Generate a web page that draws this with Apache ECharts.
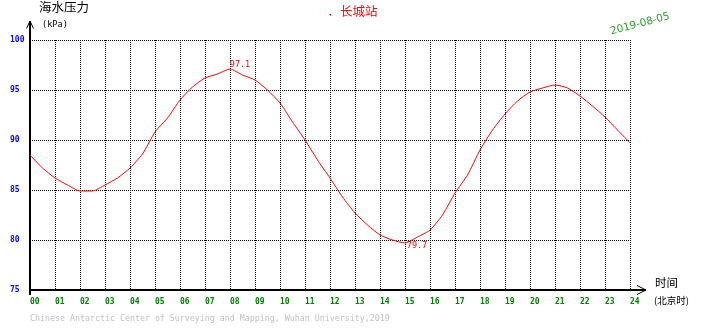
<!DOCTYPE html>
<html>
<head>
<meta charset="utf-8">
<script src="https://cdn.jsdelivr.net/npm/echarts@6/dist/echarts.min.js"></script>
<style>
  html, body { margin: 0; padding: 0; background: #fff; }
  #chart { width: 710px; height: 328px; }
</style>
</head>
<body>
<div id="chart"></div>
<script>
// 长城站 海水压力 2019-08-05, 北京时
var hours = [0, 0.5, 1, 1.5, 2, 2.5, 3, 3.5, 4, 4.5, 5, 5.5, 6, 6.5, 7, 7.5, 8, 8.5,
  9, 9.5, 10, 10.5, 11, 11.5, 12, 12.5, 13, 13.5, 14, 14.5, 15, 15.5, 16, 16.5,
  17, 17.5, 18, 18.5, 19, 19.5, 20, 20.5, 21, 21.5, 22, 22.5, 23, 23.5, 24];
var pressure = [88.5, 87.2, 86.2, 85.5, 84.9, 84.9, 85.5, 86.2, 87.2, 88.6, 90.8, 92.2,
  94.0, 95.3, 96.2, 96.6, 97.1, 96.5, 96.0, 95.0, 93.7, 91.8, 90.0, 88.0, 86.2, 84.3,
  82.7, 81.5, 80.5, 80.0, 79.7, 80.3, 81.0, 82.5, 84.7, 86.5, 89.0, 91.0, 92.6, 93.9,
  94.8, 95.2, 95.5, 95.2, 94.4, 93.4, 92.3, 91.0, 89.7];
var hourLabels = ['00','01','02','03','04','05','06','07','08','09','10','11','12',
  '13','14','15','16','17','18','19','20','21','22','23','24'];

var mono = 'DejaVu Sans Mono';
var cjk = 'Noto Sans CJK SC';

var seriesData = [];
for (var i = 0; i < hours.length; i++) {
  seriesData.push([hours[i], pressure[i]]);
}

var chart = echarts.init(document.getElementById('chart'));
var option = {
  animation: false,
  backgroundColor: '#fff',
  grid: { left: 30, top: 40, right: 80, bottom: 38 },
  xAxis: {
    type: 'value',
    min: 0,
    max: 24,
    interval: 1,
    axisLine: { show: false },
    axisTick: { show: false },
    axisLabel: {
      margin: 8,
      align: 'left',
      color: '#008000',
      fontFamily: mono,
      fontWeight: 'bold',
      fontSize: 8,
      formatter: function (v) { return hourLabels[v]; }
    },
    splitLine: {
      show: true,
      lineStyle: { color: '#000', width: 1, type: [1, 1] }
    }
  },
  yAxis: {
    type: 'value',
    min: 75,
    max: 100,
    interval: 5,
    axisLine: { show: false },
    axisTick: { show: false },
    axisLabel: {
      margin: 20,
      align: 'left',
      color: '#0000ff',
      fontFamily: mono,
      fontWeight: 'bold',
      fontSize: 8,
      padding: [0, 0, 4, 0]
    },
    splitLine: {
      show: true,
      lineStyle: { color: '#000', width: 1, type: [1, 1] }
    }
  },
  series: [{
    name: '海水压力',
    type: 'line',
    data: seriesData,
    showSymbol: false,
    smooth: 0.2,
    lineStyle: { color: '#ff0000', width: 1 },
    itemStyle: { color: '#ff0000' },
    markPoint: {
      symbolSize: 0,
      data: [
        { type: 'max', name: '最大值', label: { offset: [10, -4] } },
        { type: 'min', name: '最小值', label: { offset: [12, 3] } }
      ],
      label: {
        show: true,
        position: 'inside',
        color: '#ff0000',
        fontFamily: mono,
        fontSize: 8.5,
        formatter: function (p) { return p.value.toFixed(1); }
      }
    }
  }],
  graphic: [
    // y axis with open arrow
    { type: 'line', shape: { x1: 30, y1: 21, x2: 30, y2: 295 }, style: { stroke: '#000', lineWidth: 2 } },
    { type: 'polyline', shape: { points: [[26.5, 28.5], [30, 21], [33.5, 28.5]] }, style: { stroke: '#000', lineWidth: 1, fill: null } },
    // x axis with open arrow
    { type: 'line', shape: { x1: 29, y1: 290, x2: 646, y2: 290 }, style: { stroke: '#000', lineWidth: 2 } },
    { type: 'polyline', shape: { points: [[637, 285.5], [646, 290], [637, 294.5]] }, style: { stroke: '#000', lineWidth: 1, fill: null } },
    // titles
    { type: 'text', left: 39, top: 1, style: { text: '海水压力', font: '12.5px "' + cjk + '"', fill: '#000' } },
    { type: 'text', left: 42, top: 20, style: { text: '(kPa)', font: '8.6px "' + mono + '"', fill: '#000' } },
    { type: 'rect', shape: { x: 329.5, y: 14, width: 1.5, height: 1.5 }, style: { fill: '#ff0000' } },
    { type: 'text', left: 340, top: 5, style: { text: '长城站', font: '12.5px "' + cjk + '"', fill: '#ff0000' } },
    { type: 'text', x: 640, y: 24, rotation: 15 * Math.PI / 180,
      style: { text: '2019-08-05', font: '10.5px "DejaVu Sans"', fill: '#2ca02c', align: 'center', verticalAlign: 'middle' } },
    { type: 'text', left: 655, top: 277, style: { text: '时间', font: '11.5px "' + cjk + '"', fill: '#000' } },
    { type: 'text', left: 654, top: 296, style: { text: '(北京时)', font: '9.5px "' + cjk + '"', fill: '#000' } },
    { type: 'text', left: 30, top: 315, style: { text: 'Chinese Antarctic Center of Surveying and Mapping, Wuhan University,2019', font: '8.3px "' + mono + '"', fill: '#c0c0c0' } }
  ]
};
chart.setOption(option);
</script>
</body>
</html>
